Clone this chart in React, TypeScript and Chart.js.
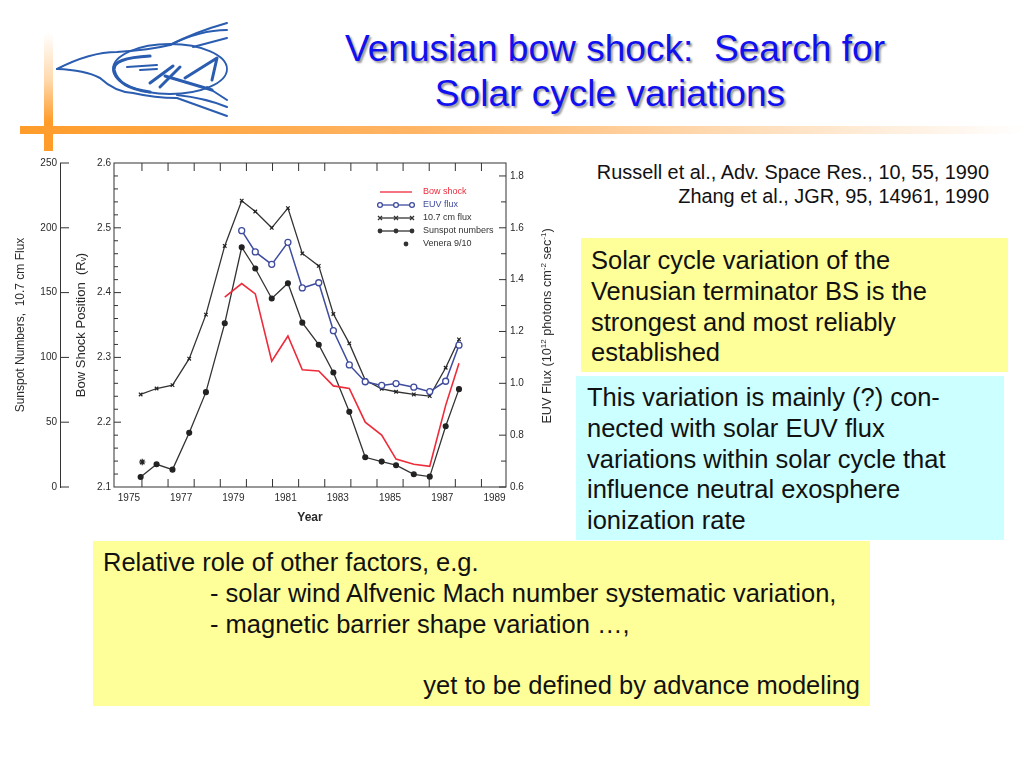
import React, { useEffect, useRef } from "react";
import { Chart, registerables } from "chart.js";

Chart.register(...registerables);

const SANS = '"Liberation Sans", Arial, sans-serif';
const INK = "#333333";
const RED = "#ee2b3a";
const BLUE = "#3f4c9e";

const years = [
  1975.45, 1976.06, 1976.67, 1977.31, 1977.95, 1978.67, 1979.32, 1979.84, 1980.47, 1981.09, 1981.64,
  1982.27, 1982.83, 1983.44, 1984.05, 1984.68, 1985.23, 1985.91, 1986.52, 1987.13, 1987.64,
];
const sunspotValues = [7.7, 17.5, 13.4, 41.8, 73.2, 126.3, 185, 168.6, 145.4, 157.2, 126.8, 109.8, 88.4, 58, 22.9, 19.6, 16.8, 9.8, 8, 46.9, 75.5];
const fluxValues = [71.4, 76, 78.6, 99, 133, 186, 220.9, 212.6, 200, 215.2, 180.2, 170.6, 133.5, 110.8, 82.5, 75.8, 73.5, 71.4, 70.1, 92, 113.9];
const euvYears = years.slice(6);
const euvValues = [1.589, 1.507, 1.459, 1.544, 1.368, 1.388, 1.203, 1.071, 1.006, 0.992, 0.999, 0.985, 0.968, 1.008, 1.147];
const bowYears = years.slice(5);
const bowValues = [2.393, 2.414, 2.398, 2.294, 2.333, 2.281, 2.279, 2.256, 2.252, 2.2, 2.18, 2.143, 2.135, 2.132, 2.226, 2.291];
const veneraYears = [1975.51];
const veneraValues = [19.3];

const xTickYears = [1975, 1977, 1979, 1981, 1983, 1985, 1987, 1989];
const sunspotTicks = [0, 50, 100, 150, 200, 250];
const bowTicks = [2.1, 2.2, 2.3, 2.4, 2.5, 2.6];
const euvTicks = [0.6, 0.8, 1.0, 1.2, 1.4, 1.6, 1.8];

const pairs = (xs: number[], ys: number[]) => xs.map((x, i) => ({ x, y: ys[i] }));
const setTicks = (values: number[]) => (scale: any) => {
  scale.ticks = values.map((value) => ({ value }));
};

const tickMarks = {
  id: "tickMarks",
  afterDraw(chart: any) {
    const { ctx, chartArea: a, scales } = chart;
    ctx.save();
    ctx.strokeStyle = INK;
    ctx.lineWidth = 1;
    const seg = (x1: number, y1: number, x2: number, y2: number) => {
      ctx.beginPath();
      ctx.moveTo(x1, y1);
      ctx.lineTo(x2, y2);
      ctx.stroke();
    };
    // plot frame
    ctx.strokeRect(a.left, a.top, a.right - a.left, a.bottom - a.top);
    // year ticks fall on year boundaries, labels sit between them
    for (let yr = 1975.5; yr < 1989.5; yr += 1) {
      const x = scales.x.getPixelForValue(yr);
      seg(x, a.top, x, a.top + 8);
      seg(x, a.bottom, x, a.bottom - 8);
    }
    // bow shock axis, inward
    for (let i = 1; i < 25; i++) {
      const y = scales.bow.getPixelForValue(2.1 + i * 0.02);
      seg(a.left, y, a.left + (i % 5 === 0 ? 7 : 4), y);
    }
    // EUV axis, inward
    for (let i = 0; i <= 12; i++) {
      const y = scales.euv.getPixelForValue(0.6 + i * 0.1);
      seg(a.right, y, a.right - (i % 2 === 0 ? 7 : 5), y);
    }
    // detached sunspot axis, ticks on its right
    const ox = scales.sun.right;
    sunspotTicks.forEach((v) => {
      const y = scales.sun.getPixelForValue(v);
      seg(ox, y, ox + 9, y);
    });
    ctx.restore();
  },
};

const legendBox = {
  id: "legendBox",
  afterDraw(chart: any) {
    const { ctx } = chart;
    ctx.save();
    ctx.font = `9px ${SANS}`;
    ctx.textBaseline = "middle";
    chart.data.datasets.forEach((ds: any, i: number) => {
      const y = 42 + i * 13;
      const marks = ds.showLine === false ? [406] : ds.pointRadius ? [380, 396, 412] : [];
      ctx.strokeStyle = ds.borderColor;
      ctx.lineWidth = 1.3;
      if (ds.showLine !== false) {
        ctx.beginPath();
        ctx.moveTo(380, y);
        ctx.lineTo(412, y);
        ctx.stroke();
      }
      marks.forEach((x) => {
        ctx.beginPath();
        if (ds.pointStyle === "crossRot") {
          ctx.moveTo(x - 2, y - 2);
          ctx.lineTo(x + 2, y + 2);
          ctx.moveTo(x + 2, y - 2);
          ctx.lineTo(x - 2, y + 2);
          ctx.stroke();
        } else if (ds.pointStyle === "star") {
          ctx.fillStyle = INK;
          ctx.arc(x, y, 2.4, 0, Math.PI * 2);
          ctx.fill();
        } else {
          ctx.arc(x, y, 2.4, 0, Math.PI * 2);
          if (ds.pointBackgroundColor === "#ffffff") {
            ctx.fillStyle = "#ffffff";
            ctx.fill();
            ctx.stroke();
          } else {
            ctx.fillStyle = ds.borderColor;
            ctx.fill();
          }
        }
      });
      ctx.fillStyle = ds.legendColor;
      ctx.fillText(ds.label, 423, y);
    });
    ctx.restore();
  },
};

function Logo() {
  const c = "#2a5cb0";
  return (
    <svg width="240" height="110" viewBox="0 0 240 110" style={{ position: "absolute", left: 0, top: 15 }}>
      <g fill="none" stroke={c} strokeWidth="2" strokeLinecap="round" strokeLinejoin="round" transform="translate(0,-15)">
        <path d="M57 69 Q90 52 117 52 Q150 50 170 45 Q195 32 227 23" />
        <path d="M170 45 Q200 30 227 30" />
        <path d="M193 47 L227 38" />
        <path d="M57 69 Q85 70 100 78 Q115 92 133 93 Q155 98 177 98 Q205 108 227 116" />
        <path d="M177 95 Q205 98 227 107" />
        <path d="M207 87 L227 100" />
        <ellipse cx="170" cy="69" rx="57" ry="25" strokeWidth="1.8" />
        <path d="M150 56 Q112 58 114 70 Q118 88 150 92" strokeWidth="3.2" />
        <path d="M127 67 L157 65 M140 70 L157 69" strokeWidth="2" />
        <path d="M150 83 L173 66 M160 87 L180 67 M165 76 L212 90" strokeWidth="3" />
        <path d="M185 78 L217 58 L212 80" strokeWidth="3" />
      </g>
    </svg>
  );
}

const box = (left: number, top: number, width: number, height: number, bg: string): React.CSSProperties => ({
  position: "absolute",
  left,
  top,
  width,
  height,
  background: bg,
  fontFamily: SANS,
  fontSize: 25.5,
  lineHeight: "30.8px",
  color: "#111",
  boxSizing: "border-box",
  whiteSpace: "nowrap",
});

export default function App() {
  const ref = useRef<HTMLCanvasElement | null>(null);
  useEffect(() => {
    const ink = { font: { family: SANS, size: 10 }, color: "#2a2a2a" };
    const chart = new Chart(ref.current as HTMLCanvasElement, {
      type: "line",
      data: {
        datasets: [
          { label: "Bow shock", yAxisID: "bow", data: pairs(bowYears, bowValues), borderColor: RED, borderWidth: 1.6, pointRadius: 0, tension: 0, legendColor: RED },
          { label: "EUV flux", yAxisID: "euv", data: pairs(euvYears, euvValues), borderColor: BLUE, borderWidth: 1.5, pointRadius: 3, pointStyle: "circle", pointBackgroundColor: "#ffffff", pointBorderColor: BLUE, pointBorderWidth: 1.3, tension: 0, legendColor: BLUE },
          { label: "10.7 cm flux", yAxisID: "sun", data: pairs(years, fluxValues), borderColor: INK, borderWidth: 1.3, pointRadius: 2.5, pointStyle: "crossRot", pointBorderColor: "#222", pointBorderWidth: 1.2, tension: 0, legendColor: INK },
          { label: "Sunspot numbers", yAxisID: "sun", data: pairs(years, sunspotValues), borderColor: INK, borderWidth: 1.3, pointRadius: 2.4, pointStyle: "circle", pointBackgroundColor: "#222", pointBorderColor: "#222", tension: 0, legendColor: INK },
          { label: "Venera 9/10", yAxisID: "sun", data: pairs(veneraYears, veneraValues), borderColor: "#222", showLine: false, pointRadius: 3.2, pointStyle: "star", pointBorderColor: "#222", pointBorderWidth: 1.2, legendColor: INK },
        ] as any,
      },
      options: {
        animation: false,
        responsive: false,
        layout: { padding: { top: 13, left: 0, right: 0, bottom: 0 } },
        plugins: { legend: { display: false }, title: { display: false }, tooltip: { enabled: false } },
        scales: {
          x: {
            type: "linear",
            min: 1974.43,
            max: 1989.44,
            afterBuildTicks: setTicks(xTickYears),
            afterFit: (s: any) => { s.height = 43; },
            grid: { display: false, drawTicks: false },
            border: { display: false },
            ticks: { ...ink, padding: 5, maxRotation: 0, autoSkip: false, callback: (v: any) => String(v) },
            title: { display: true, text: "Year", font: { family: SANS, size: 12, weight: "bold" }, color: "#2a2a2a", padding: { top: 0, bottom: 5 } },
          },
          sun: {
            type: "linear",
            position: "left",
            weight: 2,
            min: 0,
            max: 250,
            afterBuildTicks: setTicks(sunspotTicks),
            afterFit: (s: any) => { s.width = 60; },
            grid: { drawOnChartArea: false, drawTicks: false },
            border: { display: true, color: INK, width: 1 },
            ticks: { ...ink, padding: 3 },
            title: { display: true, text: "Sunspot Numbers,  10.7 cm Flux", font: { family: SANS, size: 12 }, color: "#2a2a2a", padding: { top: 13, bottom: 0 } },
          },
          bow: {
            type: "linear",
            position: "left",
            weight: 1,
            min: 2.1,
            max: 2.6,
            afterBuildTicks: setTicks(bowTicks),
            afterFit: (s: any) => { s.width = 54; },
            grid: { drawOnChartArea: false, drawTicks: false },
            border: { display: false },
            ticks: { ...ink, padding: 3, callback: (v: any) => Number(v).toFixed(1) },
            title: { display: true, text: "Bow Shock Position  (Rᵥ)", font: { family: SANS, size: 13 }, color: "#2a2a2a", padding: { top: 14, bottom: 0 } },
          },
          euv: {
            type: "linear",
            position: "right",
            min: 0.6,
            max: 1.85,
            afterBuildTicks: setTicks(euvTicks),
            afterFit: (s: any) => { s.width = 64; },
            grid: { drawOnChartArea: false, drawTicks: false },
            border: { display: false },
            ticks: { ...ink, padding: 4, callback: (v: any) => Number(v).toFixed(1) },
          },
        },
      } as any,
      plugins: [tickMarks, legendBox],
    });
    return () => chart.destroy();
  }, []);

  const titleStyle: React.CSSProperties = {
    position: "absolute",
    left: 265,
    width: 700,
    textAlign: "center",
    fontFamily: SANS,
    fontSize: 37.1,
    lineHeight: "45px",
    color: "#1010f0",
    textShadow: "2px 2px 2px #9a9a9a",
    whiteSpace: "pre",
  };
  const cite: React.CSSProperties = {
    position: "absolute",
    right: 35,
    fontFamily: SANS,
    fontSize: 19.9,
    lineHeight: "24px",
    color: "#111",
    textAlign: "right",
    whiteSpace: "nowrap",
  };

  return (
    <div style={{ position: "absolute", left: 0, top: 0, width: 1024, height: 768, overflow: "hidden", background: "#fff" }}>
      <Logo />
      <div style={{ position: "absolute", left: 44, top: 33, width: 9, height: 118, background: "linear-gradient(to bottom, #ffffff 0%, #ffd9ad 40%, #ff9c2a 75%, #ff9c2a 100%)" }} />
      <div style={{ position: "absolute", left: 20, top: 126, width: 1004, height: 8, background: "linear-gradient(to right, #ff9c2a 0%, #ffb566 40%, #ffffff 100%)" }} />

      <div style={{ ...titleStyle, top: 26 }}>{"Venusian bow shock:  Search for"}</div>
      <div style={{ ...titleStyle, top: 71, left: 260 }}>Solar cycle variations</div>

      <div style={{ position: "absolute", left: 0, top: 150, width: 570, height: 380, filter: "blur(0.45px)" }}>
        <canvas ref={ref} width={570} height={380} style={{ display: "block" }} />
        <div style={{ position: "absolute", left: 447, top: 167, width: 200, textAlign: "center", transform: "rotate(-90deg)", fontFamily: SANS, fontSize: 12.7, lineHeight: "18px", color: "#2a2a2a", whiteSpace: "nowrap" }}>
          EUV Flux (10<sup style={{ fontSize: 8, lineHeight: 0 }}>12</sup> photons cm<sup style={{ fontSize: 8, lineHeight: 0 }}>-2</sup> sec<sup style={{ fontSize: 8, lineHeight: 0 }}>-1</sup>)
        </div>
      </div>

      <div style={{ ...cite, top: 160 }}>Russell et al., Adv. Space Res., 10, 55, 1990</div>
      <div style={{ ...cite, top: 184 }}>Zhang et al., JGR, 95, 14961, 1990</div>

      <div style={{ ...box(581, 238, 427, 134, "#ffff99"), padding: "7px 10px" }}>
        Solar cycle variation of the<br />Venusian terminator BS is the<br />strongest and most reliably<br />established
      </div>
      <div style={{ ...box(576, 376, 428, 164, "#ccffff"), padding: "6px 11px" }}>
        This variation is mainly (?) con-<br />nected with solar EUV flux<br />variations within solar cycle that<br />influence neutral exosphere<br />ionization rate
      </div>
      <div style={{ ...box(93, 541, 777, 165, "#ffff99"), padding: "6px 10px" }}>
        <div>Relative role of other factors, e.g.</div>
        <div style={{ paddingLeft: 107 }}>- solar wind Alfvenic Mach number systematic variation,</div>
        <div style={{ paddingLeft: 107 }}>- magnetic barrier shape variation …,</div>
        <div>&nbsp;</div>
        <div style={{ textAlign: "right" }}>yet to be defined by advance modeling</div>
      </div>
    </div>
  );
}
